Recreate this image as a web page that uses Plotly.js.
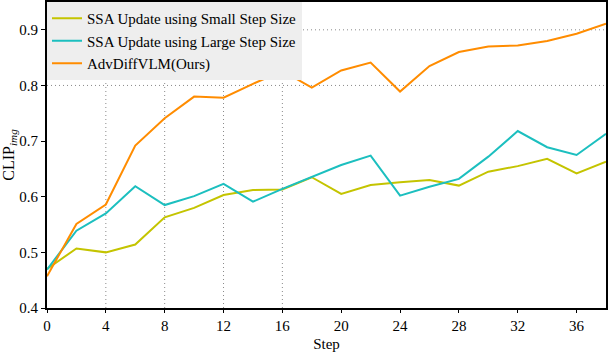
<!DOCTYPE html>
<html>
<head>
<meta charset="utf-8">
<script src="https://cdn.plot.ly/plotly-3.0.1.min.js"></script>
<style>
  html, body { margin: 0; padding: 0; background: #fff; }
  #chart { width: 608px; height: 352px; }
</style>
</head>
<body>
<div id="chart"></div>
<script>
// pasos (eje x)
const steps = [0, 2, 4, 6, 8, 10, 12, 14, 16, 18, 20, 22, 24, 26, 28, 30, 32, 34, 36, 38];

// valores CLIP_img
const smallStep = [0.470, 0.507, 0.500, 0.514, 0.563, 0.580, 0.603, 0.612, 0.613, 0.635,
  0.605, 0.621, 0.626, 0.630, 0.620, 0.645, 0.655, 0.668, 0.642, 0.663];
const largeStep = [0.469, 0.539, 0.570, 0.619, 0.585, 0.601, 0.623, 0.591, 0.614, 0.636,
  0.657, 0.674, 0.602, 0.618, 0.632, 0.672, 0.718, 0.689, 0.675, 0.713];
const ours = [0.457, 0.551, 0.586, 0.692, 0.741, 0.780, 0.778, 0.803, 0.826, 0.796,
  0.827, 0.841, 0.789, 0.835, 0.860, 0.870, 0.872, 0.880, 0.893, 0.911];

const names = ["SSA Update using Small Step Size", "SSA Update using Large Step Size", "AdvDiffVLM(Ours)"];

// lineas de rejilla visibles en la figura original
const gridX = [4, 8, 12, 16];
const gridY = [0.8, 0.9];

const font = "'Liberation Serif', 'Times New Roman', serif";

const data = [
  { x: steps, y: smallStep, name: names[0], type: "scatter", mode: "lines", line: { color: "#c4c400", width: 2 } },
  { x: steps, y: largeStep, name: names[1], type: "scatter", mode: "lines", line: { color: "#1cbfbf", width: 2 } },
  { x: steps, y: ours, name: names[2], type: "scatter", mode: "lines", line: { color: "#ff8c00", width: 2 } },
];

const gridStyle = { color: "#8a8a8a", width: 1, dash: "1px,3px" };
const shapes = gridX.map((v) => ({
  type: "line", xref: "x", yref: "paper", x0: v, x1: v, y0: 0, y1: 1, line: gridStyle, layer: "below",
})).concat(gridY.map((v) => ({
  type: "line", xref: "paper", yref: "y", x0: 0, x1: 1, y0: v, y1: v, line: gridStyle, layer: "below",
})));

const layout = {
  width: 608,
  height: 352,
  margin: { l: 47, r: 2, t: 2, b: 44 },
  paper_bgcolor: "#fff",
  plot_bgcolor: "#fff",
  font: { family: font, size: 15, color: "#000" },
  showlegend: true,
  legend: {
    x: 0, y: 1, xanchor: "left", yanchor: "top",
    bgcolor: "#eeeeee",
    font: { family: font, size: 15, color: "#000" },
    tracegroupgap: 0,
    itemwidth: 30,
  },
  xaxis: {
    range: [0, 38],
    tickmode: "linear", tick0: 0, dtick: 4,
    showgrid: false, zeroline: false,
    showline: true, mirror: true, linecolor: "#000", linewidth: 2,
    ticks: "outside", ticklen: 3, tickcolor: "#000",
    title: { text: "Step", font: { family: font, size: 15 }, standoff: 8 },
  },
  yaxis: {
    range: [0.4, 0.95],
    tickmode: "linear", tick0: 0.4, dtick: 0.1, tickformat: ".1f",
    showgrid: false, zeroline: false,
    showline: true, mirror: true, linecolor: "#000", linewidth: 2,
    ticks: "outside", ticklen: 4, tickcolor: "#000",
    title: { text: "CLIP<sub><i>img</i></sub>", font: { family: font, size: 16 }, standoff: 6 },
  },
  shapes: shapes,
};

Plotly.newPlot("chart", data, layout, { displayModeBar: false, staticPlot: true });
</script>
</body>
</html>
